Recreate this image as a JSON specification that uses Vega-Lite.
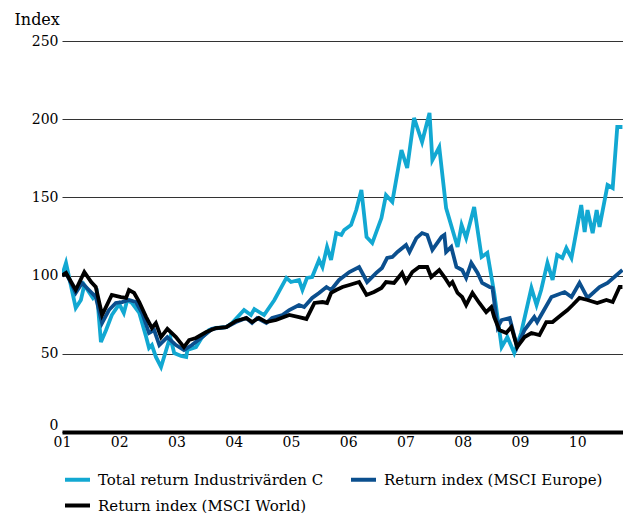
{
 "$schema": "https://vega.github.io/schema/vega-lite/v6.json",
 "width": 561, "height": 391,
 "autosize": {"type": "none"},
 "padding": {"left": 62, "top": 41, "right": 0, "bottom": 81},
 "background": "white",
 "config": {"view": {"stroke": null}, "font": "DejaVu Serif"},
 "data": {"values": [
  {"series":"Total return Industrivärden C","date":2001.00,"index":100},
  {"series":"Total return Industrivärden C","date":2001.07,"index":108.1},
  {"series":"Total return Industrivärden C","date":2001.24,"index":79.3},
  {"series":"Total return Industrivärden C","date":2001.33,"index":84.4},
  {"series":"Total return Industrivärden C","date":2001.39,"index":94.0},
  {"series":"Total return Industrivärden C","date":2001.47,"index":89.5},
  {"series":"Total return Industrivärden C","date":2001.54,"index":85.7},
  {"series":"Total return Industrivärden C","date":2001.61,"index":88.9},
  {"series":"Total return Industrivärden C","date":2001.68,"index":57.5},
  {"series":"Total return Industrivärden C","date":2001.77,"index":65.2},
  {"series":"Total return Industrivärden C","date":2001.87,"index":74.8},
  {"series":"Total return Industrivärden C","date":2002.00,"index":81.8},
  {"series":"Total return Industrivärden C","date":2002.08,"index":76.1},
  {"series":"Total return Industrivärden C","date":2002.14,"index":84.4},
  {"series":"Total return Industrivärden C","date":2002.22,"index":82.5},
  {"series":"Total return Industrivärden C","date":2002.35,"index":76.1},
  {"series":"Total return Industrivärden C","date":2002.47,"index":60.7},
  {"series":"Total return Industrivärden C","date":2002.52,"index":53.7},
  {"series":"Total return Industrivärden C","date":2002.57,"index":55.6},
  {"series":"Total return Industrivärden C","date":2002.64,"index":48.0},
  {"series":"Total return Industrivärden C","date":2002.73,"index":41.6},
  {"series":"Total return Industrivärden C","date":2002.82,"index":52.4},
  {"series":"Total return Industrivärden C","date":2002.89,"index":60.7},
  {"series":"Total return Industrivärden C","date":2002.96,"index":50.5},
  {"series":"Total return Industrivärden C","date":2003.08,"index":48.6},
  {"series":"Total return Industrivärden C","date":2003.17,"index":48.0},
  {"series":"Total return Industrivärden C","date":2003.19,"index":52.4},
  {"series":"Total return Industrivärden C","date":2003.34,"index":54.3},
  {"series":"Total return Industrivärden C","date":2003.45,"index":60.7},
  {"series":"Total return Industrivärden C","date":2003.57,"index":65.2},
  {"series":"Total return Industrivärden C","date":2003.69,"index":66.5},
  {"series":"Total return Industrivärden C","date":2003.87,"index":67.1},
  {"series":"Total return Industrivärden C","date":2003.97,"index":69.7},
  {"series":"Total return Industrivärden C","date":2004.18,"index":78.0},
  {"series":"Total return Industrivärden C","date":2004.30,"index":74.8},
  {"series":"Total return Industrivärden C","date":2004.36,"index":78.6},
  {"series":"Total return Industrivärden C","date":2004.53,"index":74.8},
  {"series":"Total return Industrivärden C","date":2004.71,"index":84.4},
  {"series":"Total return Industrivärden C","date":2004.92,"index":98.5},
  {"series":"Total return Industrivärden C","date":2005.00,"index":95.9},
  {"series":"Total return Industrivärden C","date":2005.14,"index":97.2},
  {"series":"Total return Industrivärden C","date":2005.20,"index":90.8},
  {"series":"Total return Industrivärden C","date":2005.28,"index":98.5},
  {"series":"Total return Industrivärden C","date":2005.37,"index":99.1},
  {"series":"Total return Industrivärden C","date":2005.49,"index":110.0},
  {"series":"Total return Industrivärden C","date":2005.55,"index":105.5},
  {"series":"Total return Industrivärden C","date":2005.63,"index":118.3},
  {"series":"Total return Industrivärden C","date":2005.70,"index":110.0},
  {"series":"Total return Industrivärden C","date":2005.79,"index":127.2},
  {"series":"Total return Industrivärden C","date":2005.88,"index":126.0},
  {"series":"Total return Industrivärden C","date":2005.93,"index":129.2},
  {"series":"Total return Industrivärden C","date":2006.05,"index":132.4},
  {"series":"Total return Industrivärden C","date":2006.14,"index":141.9},
  {"series":"Total return Industrivärden C","date":2006.23,"index":154.7},
  {"series":"Total return Industrivärden C","date":2006.32,"index":124.7},
  {"series":"Total return Industrivärden C","date":2006.42,"index":120.8},
  {"series":"Total return Industrivärden C","date":2006.58,"index":136.8},
  {"series":"Total return Industrivärden C","date":2006.66,"index":151.5},
  {"series":"Total return Industrivärden C","date":2006.77,"index":147.1},
  {"series":"Total return Industrivärden C","date":2006.93,"index":180.3},
  {"series":"Total return Industrivärden C","date":2007.03,"index":168.8},
  {"series":"Total return Industrivärden C","date":2007.15,"index":200.8},
  {"series":"Total return Industrivärden C","date":2007.29,"index":185.4},
  {"series":"Total return Industrivärden C","date":2007.42,"index":204.0},
  {"series":"Total return Industrivärden C","date":2007.47,"index":173.9},
  {"series":"Total return Industrivärden C","date":2007.59,"index":182.2},
  {"series":"Total return Industrivärden C","date":2007.71,"index":143.2},
  {"series":"Total return Industrivärden C","date":2007.91,"index":118.3},
  {"series":"Total return Industrivärden C","date":2007.98,"index":132.4},
  {"series":"Total return Industrivärden C","date":2008.06,"index":124.0},
  {"series":"Total return Industrivärden C","date":2008.20,"index":143.9},
  {"series":"Total return Industrivärden C","date":2008.33,"index":111.9},
  {"series":"Total return Industrivärden C","date":2008.43,"index":114.5},
  {"series":"Total return Industrivärden C","date":2008.55,"index":88.9},
  {"series":"Total return Industrivärden C","date":2008.68,"index":54.3},
  {"series":"Total return Industrivärden C","date":2008.78,"index":60.7},
  {"series":"Total return Industrivärden C","date":2008.90,"index":50.5},
  {"series":"Total return Industrivärden C","date":2009.02,"index":63.3},
  {"series":"Total return Industrivärden C","date":2009.20,"index":92.1},
  {"series":"Total return Industrivärden C","date":2009.29,"index":81.2},
  {"series":"Total return Industrivärden C","date":2009.37,"index":90.8},
  {"series":"Total return Industrivärden C","date":2009.48,"index":108.1},
  {"series":"Total return Industrivärden C","date":2009.57,"index":97.2},
  {"series":"Total return Industrivärden C","date":2009.65,"index":113.2},
  {"series":"Total return Industrivärden C","date":2009.74,"index":111.3},
  {"series":"Total return Industrivärden C","date":2009.81,"index":117.6},
  {"series":"Total return Industrivärden C","date":2009.90,"index":111.3},
  {"series":"Total return Industrivärden C","date":2010.07,"index":145.1},
  {"series":"Total return Industrivärden C","date":2010.13,"index":127.9},
  {"series":"Total return Industrivärden C","date":2010.18,"index":141.9},
  {"series":"Total return Industrivärden C","date":2010.27,"index":127.2},
  {"series":"Total return Industrivärden C","date":2010.34,"index":141.9},
  {"series":"Total return Industrivärden C","date":2010.39,"index":131.1},
  {"series":"Total return Industrivärden C","date":2010.53,"index":157.9},
  {"series":"Total return Industrivärden C","date":2010.62,"index":156.0},
  {"series":"Total return Industrivärden C","date":2010.70,"index":195.0},
  {"series":"Total return Industrivärden C","date":2010.79,"index":195.0},
  {"series":"Return index (MSCI Europe)","date":2001.00,"index":100},
  {"series":"Return index (MSCI Europe)","date":2001.07,"index":101.7},
  {"series":"Return index (MSCI Europe)","date":2001.24,"index":88.9},
  {"series":"Return index (MSCI Europe)","date":2001.35,"index":95.3},
  {"series":"Return index (MSCI Europe)","date":2001.47,"index":90.8},
  {"series":"Return index (MSCI Europe)","date":2001.59,"index":86.3},
  {"series":"Return index (MSCI Europe)","date":2001.70,"index":69.7},
  {"series":"Return index (MSCI Europe)","date":2001.82,"index":78.0},
  {"series":"Return index (MSCI Europe)","date":2001.94,"index":82.5},
  {"series":"Return index (MSCI Europe)","date":2002.05,"index":83.1},
  {"series":"Return index (MSCI Europe)","date":2002.17,"index":84.4},
  {"series":"Return index (MSCI Europe)","date":2002.29,"index":83.1},
  {"series":"Return index (MSCI Europe)","date":2002.40,"index":76.1},
  {"series":"Return index (MSCI Europe)","date":2002.52,"index":63.3},
  {"series":"Return index (MSCI Europe)","date":2002.61,"index":65.2},
  {"series":"Return index (MSCI Europe)","date":2002.70,"index":55.6},
  {"series":"Return index (MSCI Europe)","date":2002.84,"index":60.7},
  {"series":"Return index (MSCI Europe)","date":2002.99,"index":55.6},
  {"series":"Return index (MSCI Europe)","date":2003.13,"index":52.4},
  {"series":"Return index (MSCI Europe)","date":2003.27,"index":55.6},
  {"series":"Return index (MSCI Europe)","date":2003.45,"index":60.7},
  {"series":"Return index (MSCI Europe)","date":2003.62,"index":65.9},
  {"series":"Return index (MSCI Europe)","date":2003.87,"index":67.1},
  {"series":"Return index (MSCI Europe)","date":2004.04,"index":70.3},
  {"series":"Return index (MSCI Europe)","date":2004.22,"index":72.9},
  {"series":"Return index (MSCI Europe)","date":2004.32,"index":69.7},
  {"series":"Return index (MSCI Europe)","date":2004.41,"index":72.9},
  {"series":"Return index (MSCI Europe)","date":2004.57,"index":69.7},
  {"series":"Return index (MSCI Europe)","date":2004.67,"index":72.9},
  {"series":"Return index (MSCI Europe)","date":2004.85,"index":74.8},
  {"series":"Return index (MSCI Europe)","date":2004.97,"index":78.0},
  {"series":"Return index (MSCI Europe)","date":2005.14,"index":81.2},
  {"series":"Return index (MSCI Europe)","date":2005.23,"index":79.9},
  {"series":"Return index (MSCI Europe)","date":2005.37,"index":85.7},
  {"series":"Return index (MSCI Europe)","date":2005.49,"index":88.9},
  {"series":"Return index (MSCI Europe)","date":2005.62,"index":92.7},
  {"series":"Return index (MSCI Europe)","date":2005.70,"index":90.8},
  {"series":"Return index (MSCI Europe)","date":2005.84,"index":97.2},
  {"series":"Return index (MSCI Europe)","date":2006.02,"index":102.3},
  {"series":"Return index (MSCI Europe)","date":2006.19,"index":105.5},
  {"series":"Return index (MSCI Europe)","date":2006.33,"index":95.9},
  {"series":"Return index (MSCI Europe)","date":2006.49,"index":101.7},
  {"series":"Return index (MSCI Europe)","date":2006.59,"index":104.9},
  {"series":"Return index (MSCI Europe)","date":2006.68,"index":111.3},
  {"series":"Return index (MSCI Europe)","date":2006.77,"index":111.9},
  {"series":"Return index (MSCI Europe)","date":2006.86,"index":115.1},
  {"series":"Return index (MSCI Europe)","date":2007.01,"index":119.6},
  {"series":"Return index (MSCI Europe)","date":2007.07,"index":115.1},
  {"series":"Return index (MSCI Europe)","date":2007.19,"index":124.0},
  {"series":"Return index (MSCI Europe)","date":2007.29,"index":127.2},
  {"series":"Return index (MSCI Europe)","date":2007.38,"index":126.0},
  {"series":"Return index (MSCI Europe)","date":2007.47,"index":116.4},
  {"series":"Return index (MSCI Europe)","date":2007.63,"index":124.7},
  {"series":"Return index (MSCI Europe)","date":2007.68,"index":126.0},
  {"series":"Return index (MSCI Europe)","date":2007.71,"index":115.1},
  {"series":"Return index (MSCI Europe)","date":2007.80,"index":118.3},
  {"series":"Return index (MSCI Europe)","date":2007.89,"index":105.5},
  {"series":"Return index (MSCI Europe)","date":2007.99,"index":103.6},
  {"series":"Return index (MSCI Europe)","date":2008.06,"index":98.5},
  {"series":"Return index (MSCI Europe)","date":2008.15,"index":108.1},
  {"series":"Return index (MSCI Europe)","date":2008.26,"index":101.7},
  {"series":"Return index (MSCI Europe)","date":2008.34,"index":95.3},
  {"series":"Return index (MSCI Europe)","date":2008.47,"index":92.7},
  {"series":"Return index (MSCI Europe)","date":2008.52,"index":92.1},
  {"series":"Return index (MSCI Europe)","date":2008.61,"index":67.1},
  {"series":"Return index (MSCI Europe)","date":2008.68,"index":71.6},
  {"series":"Return index (MSCI Europe)","date":2008.82,"index":72.9},
  {"series":"Return index (MSCI Europe)","date":2008.95,"index":54.3},
  {"series":"Return index (MSCI Europe)","date":2009.08,"index":65.2},
  {"series":"Return index (MSCI Europe)","date":2009.25,"index":73.5},
  {"series":"Return index (MSCI Europe)","date":2009.30,"index":70.3},
  {"series":"Return index (MSCI Europe)","date":2009.55,"index":86.3},
  {"series":"Return index (MSCI Europe)","date":2009.78,"index":89.5},
  {"series":"Return index (MSCI Europe)","date":2009.90,"index":86.3},
  {"series":"Return index (MSCI Europe)","date":2010.04,"index":95.3},
  {"series":"Return index (MSCI Europe)","date":2010.18,"index":85.7},
  {"series":"Return index (MSCI Europe)","date":2010.39,"index":92.7},
  {"series":"Return index (MSCI Europe)","date":2010.53,"index":95.3},
  {"series":"Return index (MSCI Europe)","date":2010.79,"index":103.6},
  {"series":"Return index (MSCI World)","date":2001.00,"index":100},
  {"series":"Return index (MSCI World)","date":2001.07,"index":101.7},
  {"series":"Return index (MSCI World)","date":2001.24,"index":90.8},
  {"series":"Return index (MSCI World)","date":2001.39,"index":102.3},
  {"series":"Return index (MSCI World)","date":2001.51,"index":95.9},
  {"series":"Return index (MSCI World)","date":2001.59,"index":92.7},
  {"series":"Return index (MSCI World)","date":2001.70,"index":74.8},
  {"series":"Return index (MSCI World)","date":2001.87,"index":87.6},
  {"series":"Return index (MSCI World)","date":2002.03,"index":86.3},
  {"series":"Return index (MSCI World)","date":2002.12,"index":85.7},
  {"series":"Return index (MSCI World)","date":2002.17,"index":90.8},
  {"series":"Return index (MSCI World)","date":2002.26,"index":88.9},
  {"series":"Return index (MSCI World)","date":2002.35,"index":83.1},
  {"series":"Return index (MSCI World)","date":2002.47,"index":73.5},
  {"series":"Return index (MSCI World)","date":2002.57,"index":66.5},
  {"series":"Return index (MSCI World)","date":2002.64,"index":69.7},
  {"series":"Return index (MSCI World)","date":2002.73,"index":60.7},
  {"series":"Return index (MSCI World)","date":2002.84,"index":65.9},
  {"series":"Return index (MSCI World)","date":2002.99,"index":60.7},
  {"series":"Return index (MSCI World)","date":2003.13,"index":54.3},
  {"series":"Return index (MSCI World)","date":2003.22,"index":58.8},
  {"series":"Return index (MSCI World)","date":2003.34,"index":60.1},
  {"series":"Return index (MSCI World)","date":2003.52,"index":63.9},
  {"series":"Return index (MSCI World)","date":2003.69,"index":66.5},
  {"series":"Return index (MSCI World)","date":2003.87,"index":67.1},
  {"series":"Return index (MSCI World)","date":2004.04,"index":71.0},
  {"series":"Return index (MSCI World)","date":2004.22,"index":72.9},
  {"series":"Return index (MSCI World)","date":2004.32,"index":70.3},
  {"series":"Return index (MSCI World)","date":2004.44,"index":72.9},
  {"series":"Return index (MSCI World)","date":2004.57,"index":70.3},
  {"series":"Return index (MSCI World)","date":2004.74,"index":71.6},
  {"series":"Return index (MSCI World)","date":2004.97,"index":74.8},
  {"series":"Return index (MSCI World)","date":2005.14,"index":73.5},
  {"series":"Return index (MSCI World)","date":2005.27,"index":72.3},
  {"series":"Return index (MSCI World)","date":2005.41,"index":82.5},
  {"series":"Return index (MSCI World)","date":2005.55,"index":83.1},
  {"series":"Return index (MSCI World)","date":2005.63,"index":82.5},
  {"series":"Return index (MSCI World)","date":2005.70,"index":88.9},
  {"series":"Return index (MSCI World)","date":2005.79,"index":90.8},
  {"series":"Return index (MSCI World)","date":2005.90,"index":92.7},
  {"series":"Return index (MSCI World)","date":2006.02,"index":94.0},
  {"series":"Return index (MSCI World)","date":2006.19,"index":95.9},
  {"series":"Return index (MSCI World)","date":2006.32,"index":87.6},
  {"series":"Return index (MSCI World)","date":2006.45,"index":89.5},
  {"series":"Return index (MSCI World)","date":2006.58,"index":92.1},
  {"series":"Return index (MSCI World)","date":2006.66,"index":95.9},
  {"series":"Return index (MSCI World)","date":2006.80,"index":95.3},
  {"series":"Return index (MSCI World)","date":2006.94,"index":101.7},
  {"series":"Return index (MSCI World)","date":2007.01,"index":95.9},
  {"series":"Return index (MSCI World)","date":2007.12,"index":102.3},
  {"series":"Return index (MSCI World)","date":2007.24,"index":105.5},
  {"series":"Return index (MSCI World)","date":2007.38,"index":105.5},
  {"series":"Return index (MSCI World)","date":2007.45,"index":99.1},
  {"series":"Return index (MSCI World)","date":2007.59,"index":103.6},
  {"series":"Return index (MSCI World)","date":2007.68,"index":99.1},
  {"series":"Return index (MSCI World)","date":2007.77,"index":94.0},
  {"series":"Return index (MSCI World)","date":2007.82,"index":95.9},
  {"series":"Return index (MSCI World)","date":2007.91,"index":88.9},
  {"series":"Return index (MSCI World)","date":2007.99,"index":86.3},
  {"series":"Return index (MSCI World)","date":2008.06,"index":81.2},
  {"series":"Return index (MSCI World)","date":2008.17,"index":88.9},
  {"series":"Return index (MSCI World)","date":2008.29,"index":82.5},
  {"series":"Return index (MSCI World)","date":2008.41,"index":76.7},
  {"series":"Return index (MSCI World)","date":2008.50,"index":79.9},
  {"series":"Return index (MSCI World)","date":2008.55,"index":73.5},
  {"series":"Return index (MSCI World)","date":2008.64,"index":65.2},
  {"series":"Return index (MSCI World)","date":2008.76,"index":63.3},
  {"series":"Return index (MSCI World)","date":2008.85,"index":67.1},
  {"series":"Return index (MSCI World)","date":2008.95,"index":54.3},
  {"series":"Return index (MSCI World)","date":2009.08,"index":60.7},
  {"series":"Return index (MSCI World)","date":2009.20,"index":63.3},
  {"series":"Return index (MSCI World)","date":2009.34,"index":62.0},
  {"series":"Return index (MSCI World)","date":2009.46,"index":70.3},
  {"series":"Return index (MSCI World)","date":2009.57,"index":70.3},
  {"series":"Return index (MSCI World)","date":2009.72,"index":74.8},
  {"series":"Return index (MSCI World)","date":2009.83,"index":78.0},
  {"series":"Return index (MSCI World)","date":2009.92,"index":81.2},
  {"series":"Return index (MSCI World)","date":2010.04,"index":85.7},
  {"series":"Return index (MSCI World)","date":2010.18,"index":84.4},
  {"series":"Return index (MSCI World)","date":2010.35,"index":82.5},
  {"series":"Return index (MSCI World)","date":2010.51,"index":84.4},
  {"series":"Return index (MSCI World)","date":2010.62,"index":83.1},
  {"series":"Return index (MSCI World)","date":2010.74,"index":92.7},
  {"series":"Return index (MSCI World)","date":2010.79,"index":92.7}
 ]},
 "mark": {"type": "line", "strokeWidth": 3.8, "clip": true},
 "encoding": {
  "x": {"field": "date", "type": "quantitative",
   "scale": {"domain": [2001, 2010.8], "nice": false, "zero": false},
   "axis": {"values": [2001,2002,2003,2004,2005,2006,2007,2008,2009,2010],
    "labelExpr": "datum.value < 2010 ? '0' + (datum.value - 2000) : '' + (datum.value - 2000)",
    "title": null, "grid": false, "ticks": false, "domainColor": "black", "domainWidth": 4,
    "labelFont": "DejaVu Serif", "labelFontSize": 14, "labelPadding": 3, "labelColor": "black", "labelFlush": false}},
  "y": {"field": "index", "type": "quantitative",
   "scale": {"domain": [0, 250], "nice": false},
   "axis": {"values": [0,50,100,150,200,250], "title": "Index", "titleAngle": 0, "titleAlign": "left",
    "titleBaseline": "alphabetic", "titleX": -48, "titleY": -17, "titleFontSize": 16, "titleFontWeight": "normal",
    "titleFont": "DejaVu Serif", "titleColor": "black", "domain": false, "ticks": false, "grid": true,
    "labelBaseline": {"condition": {"test": "datum.value == 0", "value": "bottom"}, "value": "middle"},
    "labelFont": "DejaVu Serif", "gridColor": "#333333", "gridWidth": 1, "labelFontSize": 14, "labelPadding": 4, "labelColor": "black"}},
  "color": {"field": "series", "type": "nominal",
   "scale": {"domain": ["Total return Industrivärden C", "Return index (MSCI Europe)", "Return index (MSCI World)"],
    "range": ["#12a8d2", "#0b4f8e", "#000000"]},
   "legend": {"orient": "none", "legendX": 1, "legendY": 424, "direction": "horizontal", "columns": 2,
    "title": null, "symbolType": "stroke", "symbolSize": 625, "symbolStrokeWidth": 4, "labelFontSize": 15,
    "labelFont": "DejaVu Serif", "labelOffset": 6, "columnPadding": 19, "rowPadding": 3, "padding": 0,
    "labelColor": "black", "labelLimit": 400}}
 }
}
